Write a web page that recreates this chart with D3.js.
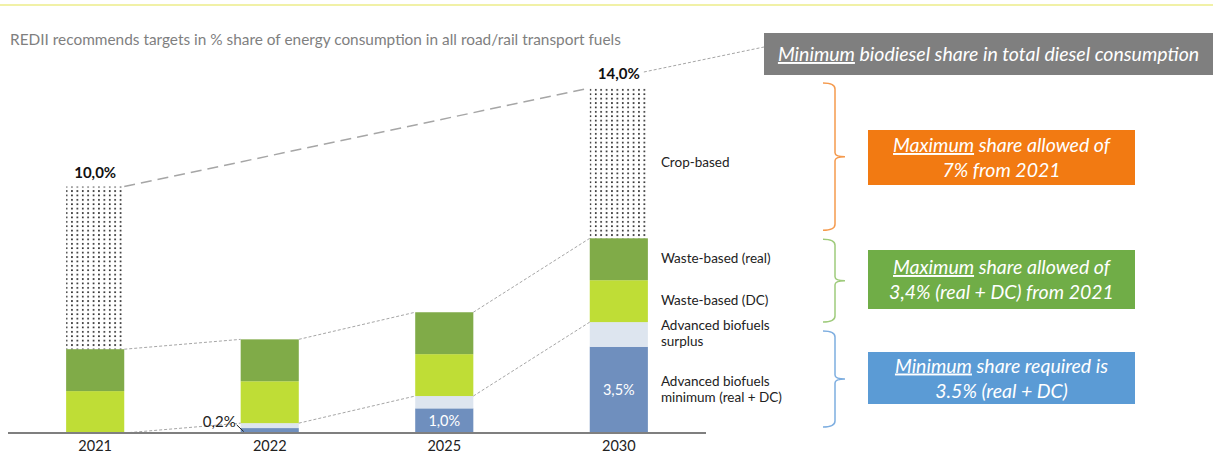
<!DOCTYPE html>
<html>
<head>
<meta charset="utf-8">
<script src="https://cdn.jsdelivr.net/npm/d3@7"></script>
<style>
  body { margin: 0; background: #fff; }
  text { font-family: Lato, "Open Sans", sans-serif; }
</style>
</head>
<body>
<div id="wrapper"></div>
<script>
// data (% share of energy)
const years = ["2021", "2022", "2025", "2030"]
const advancedMin = [0, 0.2, 1.0, 3.5]
const advancedSurplus = [0, 0.2, 0.5, 1.0]
const wasteDC = [1.7, 1.7, 1.7, 1.7]
const wasteReal = [1.7, 1.7, 1.7, 1.7]
const cropBased = [6.6, 0, 0, 6.1]
const totalLabels = ["10,0%", "", "", "14,0%"]
const insideLabels = ["", "", "1,0%", "3,5%"]
const legendLines = [["Advanced biofuels", "minimum (real + DC)"], ["Advanced biofuels", "surplus"],
  ["Waste-based (DC)"], ["Waste-based (real)"], ["Crop-based"]]

const colors = ["#6f8fbe", "#dde5ef", "#bfdd36", "#80ab48", "url(#dots)"]

const width = 1213
const height = 463

const svg = d3.select("#wrapper").append("svg")
  .attr("width", width)
  .attr("height", height)

// dotted pattern for crop-based
const pattern = svg.append("defs").append("pattern")
  .attr("id", "dots")
  .attr("patternUnits", "userSpaceOnUse")
  .attr("width", 5.4)
  .attr("height", 4.4)
pattern.append("rect").attr("x", 1).attr("y", 1).attr("width", 1.5).attr("height", 1.7).attr("fill", "#111")

// top thin yellow rule
svg.append("line")
  .attr("x1", 0).attr("x2", width).attr("y1", 5).attr("y2", 5)
  .attr("stroke", "#ecec8a").attr("stroke-width", 1.5)

svg.append("text")
  .attr("x", 10).attr("y", 45)
  .attr("font-size", 15.4)
  .attr("fill", "#7f7f7f")
  .text("REDII recommends targets in % share of energy consumption in all road/rail transport fuels")

const xScale = d3.scaleBand()
  .domain(years)
  .range([8, 706])
  .paddingInner(0.667)
  .paddingOuter(0.333)

const yScale = d3.scaleLinear()
  .domain([0, 14])
  .range([433, 88])

const table = years.map((y, i) => ({
  year: y,
  advancedMin: advancedMin[i],
  advancedSurplus: advancedSurplus[i],
  wasteDC: wasteDC[i],
  wasteReal: wasteReal[i],
  cropBased: cropBased[i]
}))
const keys = ["advancedMin", "advancedSurplus", "wasteDC", "wasteReal", "cropBased"]
const stacked = d3.stack().keys(keys)(table)

const bounds = svg.append("g")

bounds.selectAll(".layer")
  .data(stacked)
  .join("g")
    .attr("class", "layer")
    .attr("fill", (d, i) => colors[i])
  .selectAll("rect")
  .data(d => d)
  .join("rect")
    .attr("x", d => xScale(d.data.year))
    .attr("y", d => yScale(d[1]))
    .attr("width", xScale.bandwidth())
    .attr("height", d => yScale(d[0]) - yScale(d[1]))

// connector lines between bars
const advTop = i => advancedMin[i] + advancedSurplus[i]
const wasteTop = i => advTop(i) + wasteDC[i] + wasteReal[i]
const connectors = []
for (let i = 0; i < years.length - 1; i++) {
  connectors.push({ a: i, b: i + 1, va: advTop(i), vb: advTop(i + 1) })
  connectors.push({ a: i, b: i + 1, va: wasteTop(i), vb: wasteTop(i + 1) })
}
bounds.selectAll(".conn")
  .data(connectors)
  .join("line")
    .attr("class", "conn")
    .attr("x1", d => xScale(years[d.a]) + xScale.bandwidth())
    .attr("x2", d => xScale(years[d.b]))
    .attr("y1", d => yScale(d.va))
    .attr("y2", d => yScale(d.vb))
    .attr("stroke", "#a6a6a6")
    .attr("stroke-width", 1)
    .attr("stroke-dasharray", "3,2")

// long dashed line between totals of 2021 and 2030
const total = i => wasteTop(i) + cropBased[i]
bounds.append("line")
  .attr("x1", xScale("2021") + xScale.bandwidth())
  .attr("x2", xScale("2030"))
  .attr("y1", yScale(total(0)))
  .attr("y2", yScale(total(3)))
  .attr("stroke", "#a6a6a6")
  .attr("stroke-width", 1.5)
  .attr("stroke-dasharray", "11,6")

// baseline
bounds.append("line")
  .attr("x1", 8).attr("x2", 706)
  .attr("y1", yScale(0)).attr("y2", yScale(0))
  .attr("stroke", "#7f7f7f").attr("stroke-width", 2)

const xAxisGen = d3.axisBottom(xScale).tickSize(0).tickPadding(8)
const xAxis = bounds.append("g")
  .attr("transform", `translate(0,${yScale(0)})`)
  .call(xAxisGen)
xAxis.select(".domain").remove()
xAxis.selectAll("text")
  .attr("font-size", 14.5)
  .attr("fill", "#222")
  .style("font-family", "Lato, sans-serif")

// total labels
bounds.selectAll(".total")
  .data(years.filter((y, i) => totalLabels[i]))
  .join("text")
    .attr("class", "total")
    .attr("x", d => xScale(d) + xScale.bandwidth() / 2)
    .attr("y", d => yScale(total(years.indexOf(d))) - 9)
    .attr("text-anchor", "middle")
    .attr("font-size", 15)
    .attr("font-weight", "bold")
    .attr("fill", "#111")
    .text(d => totalLabels[years.indexOf(d)])

// labels inside blue segment
bounds.selectAll(".inside")
  .data(years.filter((y, i) => insideLabels[i]))
  .join("text")
    .attr("class", "inside")
    .attr("x", d => xScale(d) + xScale.bandwidth() / 2)
    .attr("y", d => yScale(advancedMin[years.indexOf(d)] / 2) + 5)
    .attr("text-anchor", "middle")
    .attr("font-size", 14.5)
    .attr("fill", "#fff")
    .text(d => insideLabels[years.indexOf(d)])

// 0,2% callout for 2022
const x22 = xScale("2022")
bounds.append("text")
  .attr("x", x22 - 5).attr("y", yScale(0.3) + 1)
  .attr("text-anchor", "end")
  .attr("font-size", 15)
  .attr("fill", "#222")
  .text("0,2%")
bounds.append("line")
  .attr("x1", x22 - 4).attr("y1", yScale(0.33))
  .attr("x2", x22 + 3).attr("y2", yScale(0.06))
  .attr("stroke", "#222").attr("stroke-width", 1)

// series labels to the right of the 2030 bar
const x30 = xScale("2030") + xScale.bandwidth() + 13
const s30 = stacked.map(s => s[3])
const legend = bounds.selectAll(".series-label")
  .data(legendLines)
  .join("text")
    .attr("class", "series-label")
    .attr("x", x30)
    .attr("y", (d, i) => {
      const mid = (yScale(s30[i][0]) + yScale(s30[i][1])) / 2
      return mid + 4 - (d.length - 1) * 8
    })
    .attr("font-size", 13.5)
    .attr("fill", "#222")
legend.selectAll("tspan")
  .data(d => d)
  .join("tspan")
    .attr("x", x30)
    .attr("dy", (d, i) => i === 0 ? 0 : 16)
    .text(d => d)

// braces for the 2030 bar groups (offsets in px: top, bottom)
const braceGroups = [
  { lo: wasteTop(3), hi: total(3), color: "#f59a4d", off: [-5, -8] },
  { lo: advTop(3), hi: wasteTop(3), color: "#9fcb7c", off: [1, 0] },
  { lo: 0, hi: advTop(3), color: "#7eaee0", off: [9, -6] }
]
const braceX = 823
function bracePath(y0, y1) {
  const ym = (y0 + y1) / 2
  const v = braceX + 12
  return `M${braceX},${y0} Q${v},${y0} ${v},${y0 + 6} L${v},${ym - 4} Q${v},${ym} ${v + 10},${ym}` +
    ` Q${v},${ym} ${v},${ym + 4} L${v},${y1 - 6} Q${v},${y1} ${braceX},${y1}`
}
bounds.selectAll(".brace")
  .data(braceGroups)
  .join("path")
    .attr("class", "brace")
    .attr("d", d => bracePath(yScale(d.hi) + d.off[0], yScale(d.lo) + d.off[1]))
    .attr("fill", "none")
    .attr("stroke", d => d.color)
    .attr("stroke-width", 1.5)

// note boxes
const notes = [
  { x: 764, y: 33, w: 449, h: 42, fill: "#7f7f7f", lines: [["Minimum", " biodiesel share in total diesel consumption"]] },
  { x: 868, y: 130, w: 267, h: 55, fill: "#f27a12", lines: [["Maximum", " share allowed of"], ["", "7% from 2021"]] },
  { x: 868, y: 250, w: 267, h: 59, fill: "#70ad47", lines: [["Maximum", " share allowed of"], ["", "3,4% (real + DC) from 2021"]] },
  { x: 868, y: 352, w: 267, h: 52, fill: "#5b9bd5", lines: [["Minimum", " share required is"], ["", "3.5% (real + DC)"]] }
]
const noteG = svg.selectAll(".note")
  .data(notes)
  .join("g")
    .attr("class", "note")
noteG.append("rect")
  .attr("x", d => d.x).attr("y", d => d.y)
  .attr("width", d => d.w).attr("height", d => d.h)
  .attr("fill", d => d.fill)
noteG.each(function(d) {
  const g = d3.select(this)
  const n = d.lines.length
  d.lines.forEach((ln, i) => {
    const t = g.append("text")
      .attr("x", d.x + d.w / 2)
      .attr("y", d.y + d.h / 2 + 7 + (i - (n - 1) / 2) * 25)
      .attr("text-anchor", "middle")
      .attr("font-size", 19.5)
      .attr("font-style", "italic")
      .attr("fill", "#fff")
    if (ln[0]) t.append("tspan").attr("text-decoration", "underline").text(ln[0])
    t.append("tspan").text(ln[1])
  })
})

// dotted leader from 14,0% label to the grey box
svg.append("line")
  .attr("x1", xScale("2030") + xScale.bandwidth() - 4).attr("y1", yScale(total(3)) - 16)
  .attr("x2", 764).attr("y2", 47)
  .attr("stroke", "#a6a6a6").attr("stroke-width", 1)
  .attr("stroke-dasharray", "3,2")
</script>
</body>
</html>
